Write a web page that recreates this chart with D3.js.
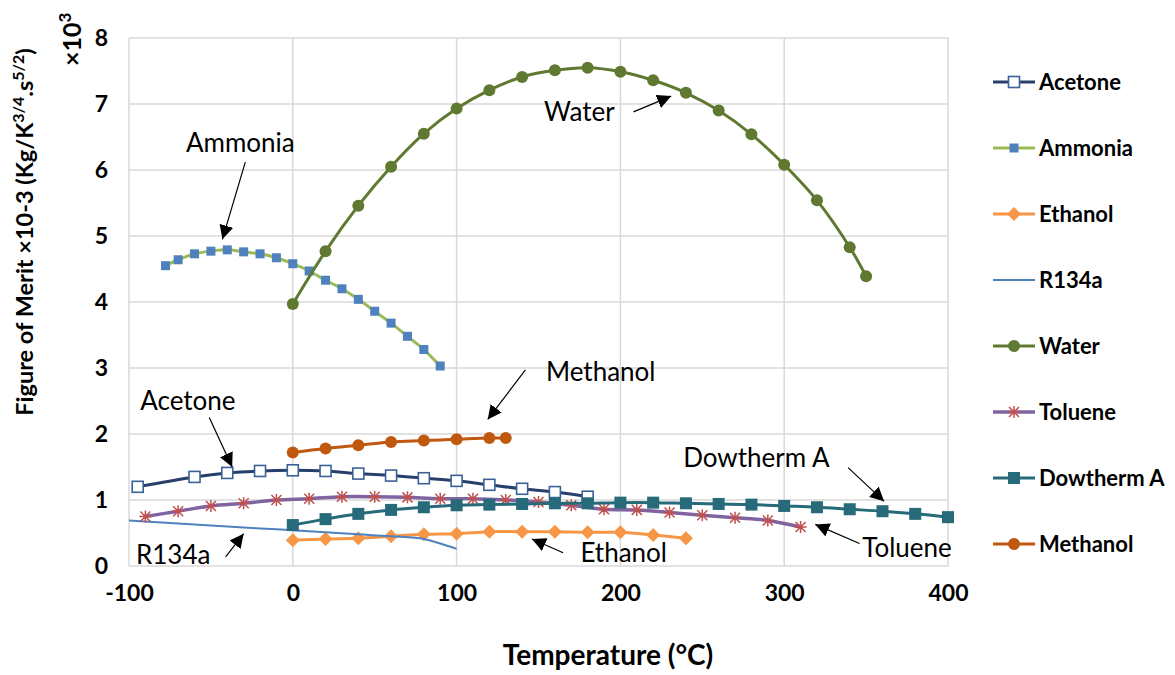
<!DOCTYPE html>
<html>
<head>
<meta charset="utf-8">
<script src="https://cdn.jsdelivr.net/npm/d3@7"></script>
<style>
body { margin: 0; background: #fff; }
text { font-family: Lato, "Noto Sans", sans-serif; }
.tick text { font-weight: bold; font-size: 23px; fill: #000; }
.note { font-size: 26px; fill: #000; }
.leg { font-size: 22px; font-weight: bold; }
</style>
</head>
<body>
<div id="chart"></div>
<script>
var width = 1175, height = 675;

// temperatures (°C) and figure of merit (x10^3) per fluid
var acetoneT = [-94.7, -60, -40, -20, 0, 20, 40, 60, 80, 100, 120, 140, 160, 180];
var acetoneV = [1.20, 1.35, 1.41, 1.44, 1.45, 1.44, 1.40, 1.37, 1.33, 1.29, 1.23, 1.17, 1.12, 1.05];
var ammoniaT = [-77.7, -70, -60, -50, -40, -30, -20, -10, 0, 10, 20, 30, 40, 50, 60, 70, 80, 90];
var ammoniaV = [4.55, 4.64, 4.73, 4.77, 4.79, 4.76, 4.73, 4.67, 4.58, 4.47, 4.33, 4.20, 4.04, 3.86, 3.68, 3.48, 3.28, 3.03];
var ethanolT = [0, 20, 40, 60, 80, 100, 120, 140, 160, 180, 200, 220, 240];
var ethanolV = [0.39, 0.41, 0.42, 0.45, 0.48, 0.49, 0.52, 0.52, 0.52, 0.51, 0.51, 0.47, 0.42];
var r134aT = [-100, -80, -60, -40, -20, 0, 20, 40, 60, 80, 90, 100];
var r134aV = [0.69, 0.66, 0.63, 0.60, 0.57, 0.54, 0.51, 0.48, 0.45, 0.41, 0.34, 0.26];
var waterT = [0, 20, 40, 60, 80, 100, 120, 140, 160, 180, 200, 220, 240, 260, 280, 300, 320, 340, 350];
var waterV = [3.97, 4.77, 5.46, 6.05, 6.55, 6.93, 7.21, 7.41, 7.51, 7.55, 7.49, 7.36, 7.17, 6.90, 6.54, 6.08, 5.54, 4.83, 4.39];
var tolueneT = [-90, -70, -50, -30, -10, 10, 30, 50, 70, 90, 110, 130, 150, 170, 190, 210, 230, 250, 270, 290, 310];
var tolueneV = [0.75, 0.83, 0.91, 0.95, 1.00, 1.02, 1.05, 1.05, 1.04, 1.02, 1.02, 1.00, 0.97, 0.92, 0.86, 0.85, 0.81, 0.77, 0.73, 0.69, 0.59];
var dowthermT = [0, 20, 40, 60, 80, 100, 120, 140, 160, 180, 200, 220, 240, 260, 280, 300, 320, 340, 360, 380, 400];
var dowthermV = [0.62, 0.71, 0.79, 0.85, 0.89, 0.92, 0.93, 0.94, 0.95, 0.95, 0.96, 0.96, 0.95, 0.94, 0.93, 0.91, 0.89, 0.86, 0.83, 0.79, 0.74];
var methanolT = [0, 20, 40, 60, 80, 100, 120, 130];
var methanolV = [1.72, 1.78, 1.83, 1.88, 1.90, 1.92, 1.94, 1.94];

var xTicks = [-100, 0, 100, 200, 300, 400];
var yTicks = [0, 1, 2, 3, 4, 5, 6, 7, 8];

// annotations: label position, arrow start, arrow tip (data units)
var noteText = ["Ammonia", "Water", "Methanol", "Acetone", "R134a", "Ethanol", "Dowtherm A", "Toluene"];
var noteAt   = [[-32, 6.41], [175, 6.88], [188, 2.94], [-64, 2.50], [-73, 0.17], [202, 0.20], [283, 1.64], [375, 0.28]];
var noteFrom = [[-29, 6.12], [208, 6.88], [142, 2.97], [-51, 2.25], [-41, 0.14], [165, 0.20], [339, 1.49], [346, 0.34]];
var noteTo   = [[-43, 4.95], [231, 7.12], [119, 2.22], [-37, 1.50], [-30, 0.49], [146, 0.41], [361, 0.98], [319, 0.63]];

var series = [
  {name: "Acetone", t: acetoneT, v: acetoneV, line: "#283f6b", width: 3, marker: "openSquare", mcol: "#3b6296"},
  {name: "Ammonia", t: ammoniaT, v: ammoniaV, line: "#9bbb59", width: 3, marker: "square", mcol: "#4f81bd"},
  {name: "Ethanol", t: ethanolT, v: ethanolV, line: "#f79646", width: 3, marker: "diamond", mcol: "#f79646"},
  {name: "R134a", t: r134aT, v: r134aV, line: "#4f81bd", width: 2, marker: null},
  {name: "Water", t: waterT, v: waterV, line: "#5f7a30", width: 3, marker: "circle", mcol: "#5f7a30"},
  {name: "Toluene", t: tolueneT, v: tolueneV, line: "#8064a2", width: 3.5, marker: "star", mcol: "#c0504d"},
  {name: "Dowtherm A", t: dowthermT, v: dowthermV, line: "#276a7a", width: 3, marker: "bigSquare", mcol: "#276a7a"},
  {name: "Methanol", t: methanolT, v: methanolV, line: "#c0580f", width: 3, marker: "circle", mcol: "#c0580f"}
];

var svg = d3.select("#chart").append("svg")
  .attr("width", width)
  .attr("height", height);

var x = d3.scaleLinear().domain([-100, 400]).range([129, 948]);
var y = d3.scaleLinear().domain([0, 8]).range([566, 38]);

svg.append("defs").append("marker")
  .attr("id", "arrow")
  .attr("viewBox", "0 0 10 10")
  .attr("refX", 10).attr("refY", 5)
  .attr("markerWidth", 14).attr("markerHeight", 14)
  .attr("markerUnits", "userSpaceOnUse")
  .attr("orient", "auto")
  .append("path")
  .attr("d", "M0,0L10,5L0,10z")
  .attr("fill", "#000");

// grid
svg.append("g").selectAll("line.h").data(yTicks).enter().append("line")
  .attr("x1", x(-100)).attr("x2", x(400))
  .attr("y1", function(d) { return y(d); }).attr("y2", function(d) { return y(d); })
  .attr("stroke", "#d9d9d9").attr("stroke-width", 1.5);
svg.append("g").selectAll("line.v").data(xTicks).enter().append("line")
  .attr("y1", y(0)).attr("y2", y(8))
  .attr("x1", function(d) { return x(d); }).attr("x2", function(d) { return x(d); })
  .attr("stroke", "#d9d9d9").attr("stroke-width", 1.5);

// axes (labels only)
var plain = function(d) { return String(d); };
var xAxis = svg.append("g").attr("transform", "translate(0," + 584 + ")")
  .call(d3.axisBottom(x).tickValues(xTicks).tickFormat(plain).tickSize(0).tickPadding(0));
xAxis.select(".domain").remove();
xAxis.selectAll("text").attr("dy", "0.72em");

var yAxis = svg.append("g").attr("transform", "translate(" + 108 + ",0)")
  .call(d3.axisLeft(y).tickValues(yTicks).tickFormat(plain).tickSize(0).tickPadding(0));
yAxis.select(".domain").remove();

// titles
svg.append("text")
  .attr("x", 608).attr("y", 665)
  .attr("text-anchor", "middle")
  .attr("font-size", 28).attr("font-weight", "bold")
  .text("Temperature (°C)");

var yt = svg.append("text")
  .attr("transform", "translate(33,232) rotate(-90)")
  .attr("text-anchor", "middle")
  .attr("font-size", 23.5).attr("font-weight", "bold");
yt.append("tspan").text("Figure of Merit ×10-3 (Kg/K");
yt.append("tspan").attr("dy", -9).attr("font-size", 16).text("3/4");
yt.append("tspan").attr("dy", 9).text(".s");
yt.append("tspan").attr("dy", -9).attr("font-size", 16).text("5/2");
yt.append("tspan").attr("dy", 9).text(")");

var ex = svg.append("text")
  .attr("transform", "translate(81,66) rotate(-90)")
  .attr("text-anchor", "start")
  .attr("font-size", 25).attr("font-weight", "bold");
ex.append("tspan").text("×10");
ex.append("tspan").attr("dy", -10).attr("font-size", 17).text("3");

// marker drawing
function drawMarker(g, type, col) {
  if (type === "openSquare") {
    g.append("rect").attr("x", -5.5).attr("y", -5.5).attr("width", 11).attr("height", 11)
      .attr("fill", "#fff").attr("stroke", col).attr("stroke-width", 1.6);
  } else if (type === "square") {
    g.append("rect").attr("x", -4.5).attr("y", -4.5).attr("width", 9).attr("height", 9).attr("fill", col);
  } else if (type === "bigSquare") {
    g.append("rect").attr("x", -6).attr("y", -6).attr("width", 12).attr("height", 12).attr("fill", col);
  } else if (type === "diamond") {
    g.append("path").attr("d", "M0,-7L7,0L0,7L-7,0z").attr("fill", col);
  } else if (type === "circle") {
    g.append("circle").attr("r", 6).attr("fill", col);
  } else if (type === "star") {
    g.append("path").attr("d", "M0,-6V6M-5,-5L5,5M-5,5L5,-5M-6,0H6")
      .attr("stroke", col).attr("stroke-width", 1.5).attr("fill", "none");
  }
}

var line = d3.line()
  .x(function(d) { return x(d[0]); })
  .y(function(d) { return y(d[1]); })
  .curve(d3.curveCatmullRom.alpha(0.5));

var plot = svg.append("g");
series.forEach(function(s) {
  var pts = s.t.map(function(t, i) { return [t, s.v[i]]; });
  var g = plot.append("g");
  g.append("path").datum(pts)
    .attr("d", line)
    .attr("fill", "none")
    .attr("stroke", s.line)
    .attr("stroke-width", s.width);
  if (s.marker) {
    g.selectAll("g.m").data(pts).enter().append("g")
      .attr("transform", function(d) { return "translate(" + x(d[0]) + "," + y(d[1]) + ")"; })
      .each(function() { drawMarker(d3.select(this), s.marker, s.mcol); });
  }
});

// annotations
var notes = svg.append("g");
noteText.forEach(function(txt, i) {
  notes.append("text").attr("class", "note")
    .attr("x", x(noteAt[i][0])).attr("y", y(noteAt[i][1]))
    .attr("text-anchor", "middle").attr("dy", "0.36em")
    .text(txt);
  notes.append("line")
    .attr("x1", x(noteFrom[i][0])).attr("y1", y(noteFrom[i][1]))
    .attr("x2", x(noteTo[i][0])).attr("y2", y(noteTo[i][1]))
    .attr("stroke", "#000").attr("stroke-width", 1.2)
    .attr("marker-end", "url(#arrow)");
});

// legend
var legend = svg.append("g").attr("transform", "translate(993,82)");
var item = legend.selectAll("g").data(series).enter().append("g")
  .attr("transform", function(d, i) { return "translate(0," + (i * 66) + ")"; });
item.append("line").attr("x1", 0).attr("x2", 42)
  .attr("stroke", function(d) { return d.line; })
  .attr("stroke-width", function(d) { return d.width; });
item.each(function(d) {
  if (d.marker) drawMarker(d3.select(this).append("g").attr("transform", "translate(21,0)"), d.marker, d.mcol);
});
item.append("text").attr("class", "leg")
  .attr("x", 46).attr("dy", "0.36em")
  .text(function(d) { return d.name; });
</script>
</body>
</html>
